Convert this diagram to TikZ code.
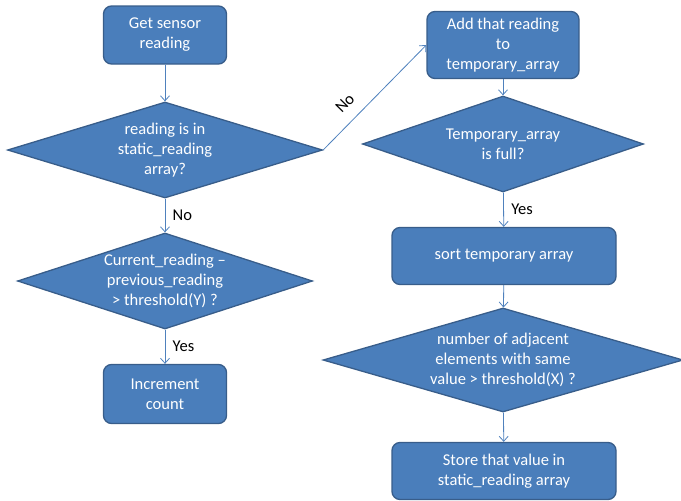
\documentclass[tikz,border=0pt]{standalone}
\usepackage{fontspec}
\setmainfont{Carlito}
\usepackage{tikz}
\usetikzlibrary{shapes.geometric,arrows.meta}
\definecolor{boxfill}{HTML}{4A7EBB}
\definecolor{boxline}{HTML}{385D8A}
\definecolor{arrowline}{HTML}{4F81BD}
\newcommand{\textsize}{\fontsize{16.5}{20}\selectfont}

\begin{document}
\begin{tikzpicture}[x=1pt, y=-1pt,
  stepbox/.style={draw=boxline, fill=boxfill, line width=1.3pt, rounded corners=8pt, text=white, font=\textsize, align=center, inner sep=0pt},
  decision/.style={diamond, draw=boxline, fill=boxfill, line width=1.3pt, text=white, font=\textsize, align=center, inner sep=0pt},
  flow/.style={draw=arrowline, line width=0.8pt, -{Straight Barb[length=5pt,width=9pt]}},
  answer/.style={font=\textsize, text=black}]
\useasboundingbox (0,0) rectangle (681,501);
%left column
\node[stepbox, minimum width=123pt, minimum height=58pt] (get) at (165, 35) {Get sensor\\reading};
\node[decision, aspect=3.28, minimum width=315pt, minimum height=96pt] (instatic) at (165, 150) {reading is in\\static\_reading\\array?};
\node[decision, aspect=3.07, minimum width=295pt, minimum height=96pt] (diff) at (165, 281) {Current\_reading --\\previous\_reading\\> threshold(Y) ?};
\node[stepbox, minimum width=123pt, minimum height=59pt] (incr) at (165, 394) {Increment\\count};
%right column
\node[stepbox, minimum width=152pt, minimum height=67pt] (add) at (503, 45) {Add that reading\\to\\temporary\_array};
\node[decision, aspect=2.93, minimum width=281pt, minimum height=96pt] (full) at (503, 144) {Temporary\_array\\is full?};
\node[stepbox, minimum width=224pt, minimum height=57pt] (sort) at (504, 256) {sort temporary array};
\node[decision, aspect=3.46, minimum width=360pt, minimum height=104pt] (adjacent) at (503, 360) {number of adjacent\\elements with same\\value > threshold(X) ?};
\node[stepbox, minimum width=224pt, minimum height=57pt] (store) at (504, 471) {Store that value in\\static\_reading array};
%connectors
\draw[flow] (get) -- (instatic);
\draw[flow] (instatic) -- (diff) node[answer, midway, right=4pt] {No};
\draw[flow] (diff) -- (incr) node[answer, midway, right=4pt] {Yes};
\draw[flow] (instatic.east) -- (add.west) node[answer, pos=0.33, above=8pt, sloped] {No};
\draw[flow] (add) -- (full);
\draw[flow] (full) -- (sort) node[answer, midway, right=4pt] {Yes};
\draw[flow] (sort) -- (adjacent);
\draw[flow] (adjacent) -- (store);
\end{tikzpicture}
\end{document}
